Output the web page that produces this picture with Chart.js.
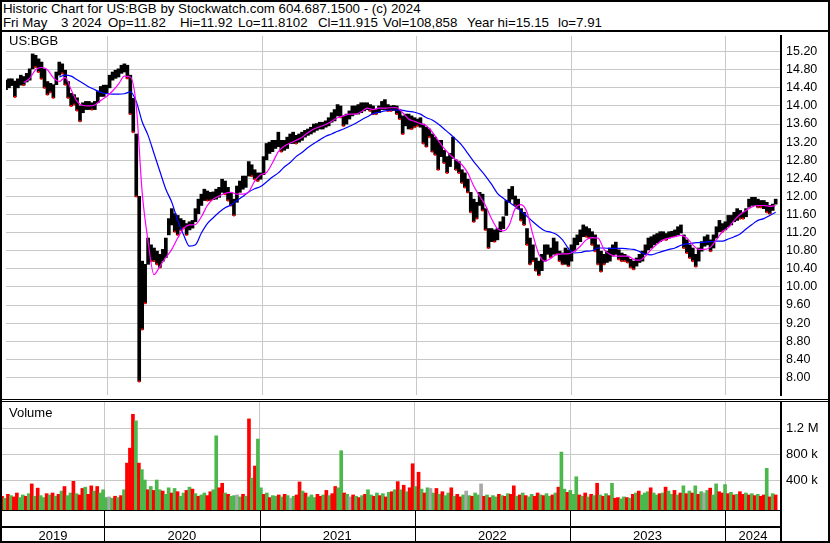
<!DOCTYPE html>
<html>
<head>
<meta charset="utf-8">
<script src="https://cdn.jsdelivr.net/npm/chart.js@4.4.1/dist/chart.umd.min.js"></script>
<style>
html, body { margin: 0; padding: 0; background: #fff; }
#frame { position: relative; width: 830px; height: 543px; box-sizing: border-box; border: 2px solid #000;
         font-family: "Liberation Sans", Arial, sans-serif; color: #000; overflow: hidden; background: #fff; }
#head { position: absolute; left: 1px; top: 0; font-size: 13.3px; line-height: 14px; white-space: pre; }
#quote { position: absolute; left: 0; top: 14px; width: 826px; height: 14px; font-size: 13.3px; line-height: 14px; white-space: pre; }
#quote span { position: absolute; top: 0; }
.rule { position: absolute; left: 0; width: 826px; background: #000; }
canvas { position: absolute; left: 0; }
.tag { position: absolute; left: 7px; font-size: 13px; line-height: 14px; }
</style>
</head>
<body>
<div id="frame">
  <div id="head">Historic Chart for US:BGB by Stockwatch.com 604.687.1500 - (c) 2024</div>
  <div id="quote"><span style="left:1px">Fri May</span><span style="left:59px">3 2024</span><span style="left:106px">Op=11.82</span><span style="left:178px">Hi=11.92</span><span style="left:236px">Lo=11.8102</span><span style="left:316px">Cl=11.915</span><span style="left:381px">Vol=108,858</span><span style="left:465px">Year hi=15.15</span><span style="left:556px">lo=7.91</span></div>
  <div class="rule" style="top:28px;height:2px"></div>
  <canvas id="price" width="826" height="367" style="top:30px"></canvas>
  <div class="rule" style="top:397px;height:1px"></div>
  <div class="rule" style="top:399px;height:1px"></div>
  <canvas id="vol" width="826" height="139" style="top:400px"></canvas>
  <div class="tag" style="top:32px">US:BGB</div>
  <div class="tag" style="top:404px">Volume</div>
</div>
<script>
// weekly bars, week 0 = first week of May 2019, last = week of May 3 2024
var priceHi = [
  14.57,14.60,14.60,14.55,14.60,14.68,14.65,14.72,14.82,15.15,
  15.12,15.04,14.97,14.82,14.54,14.50,14.47,14.75,14.97,14.93,
  14.79,14.54,14.28,14.25,14.18,14.00,14.07,14.10,14.10,14.07,
  14.10,14.32,14.43,14.46,14.46,14.68,14.75,14.79,14.82,14.90,
  14.93,14.90,14.68,14.17,13.38,12.00,10.57,10.50,11.08,10.93,
  10.86,10.79,10.72,10.83,11.08,11.51,11.73,11.62,11.58,11.51,
  11.47,11.40,11.44,11.47,11.73,11.94,12.05,12.16,12.12,12.09,
  12.10,12.16,12.20,12.38,12.34,12.20,12.09,11.94,12.23,12.34,
  12.45,12.45,12.77,12.70,12.59,12.52,12.52,12.88,13.17,13.20,
  13.24,13.24,13.42,13.24,13.24,13.31,13.38,13.42,13.35,13.38,
  13.42,13.46,13.49,13.53,13.60,13.61,13.64,13.64,13.67,13.74,
  13.85,13.92,14.03,14.00,13.78,13.82,13.89,14.00,14.00,14.03,
  14.07,14.07,14.07,14.03,14.00,13.92,14.00,14.10,14.14,14.03,
  14.00,14.01,14.00,13.92,13.78,13.82,13.82,13.78,13.74,13.71,
  13.74,13.60,13.53,13.49,13.38,13.31,13.24,13.24,13.02,12.88,
  12.95,13.31,12.81,12.77,12.59,12.52,12.38,12.09,11.94,11.87,
  12.09,12.05,11.73,11.29,11.29,11.26,11.29,11.44,11.55,11.91,
  12.16,12.22,12.01,11.94,11.73,11.65,11.29,11.08,10.93,10.64,
  10.57,10.72,10.93,10.93,10.86,11.08,11.00,10.79,10.75,10.86,
  10.82,10.93,11.08,11.15,11.26,11.37,11.33,11.29,11.22,11.15,
  10.93,10.79,10.72,10.79,10.86,10.93,10.99,10.82,10.75,10.72,
  10.68,10.61,10.57,10.64,10.72,10.79,10.93,11.08,11.11,11.15,
  11.18,11.22,11.22,11.18,11.22,11.23,11.26,11.33,11.37,11.15,
  11.04,10.93,10.86,10.72,10.86,11.00,11.11,11.15,11.04,11.15,
  11.33,11.47,11.40,11.44,11.58,11.58,11.65,11.73,11.69,11.65,
  11.73,11.94,11.98,11.98,11.94,11.91,11.91,11.87,11.80,11.83,
  11.94
];
var priceLo = [
  14.36,14.40,14.45,14.20,14.40,14.46,14.46,14.53,14.57,14.82,
  14.86,14.75,14.60,14.40,14.25,14.30,14.18,14.47,14.68,14.72,
  14.47,14.18,14.00,14.03,13.90,13.66,13.85,13.92,13.92,13.92,
  13.92,14.07,14.21,14.21,14.28,14.40,14.57,14.61,14.64,14.72,
  14.75,14.61,13.82,13.42,12.00,7.91,9.06,9.64,10.50,10.57,
  10.57,10.50,10.43,10.57,10.65,11.15,11.37,11.22,11.15,11.26,
  11.30,11.15,11.26,11.30,11.44,11.62,11.80,11.91,11.91,11.91,
  11.93,11.94,11.98,12.09,12.05,11.91,11.80,11.58,11.87,12.09,
  12.16,12.20,12.45,12.45,12.38,12.34,12.38,12.48,12.81,12.95,
  12.99,13.06,13.10,12.99,13.02,13.06,13.17,13.17,13.17,13.20,
  13.24,13.31,13.35,13.38,13.42,13.46,13.49,13.49,13.53,13.56,
  13.64,13.67,13.78,13.75,13.56,13.60,13.71,13.78,13.82,13.82,
  13.85,13.89,13.92,13.89,13.82,13.82,13.85,13.92,13.92,13.89,
  13.89,13.90,13.82,13.71,13.38,13.56,13.49,13.49,13.53,13.56,
  13.53,13.17,13.10,13.31,12.99,12.92,12.59,12.88,12.74,12.52,
  12.66,12.84,12.59,12.52,12.30,12.20,12.09,11.65,11.44,11.51,
  11.80,11.69,11.26,10.86,11.00,11.00,11.04,11.22,11.29,11.58,
  11.87,11.94,11.80,11.73,11.47,11.37,10.93,10.50,10.57,10.36,
  10.26,10.36,10.57,10.72,10.65,10.72,10.72,10.57,10.50,10.50,
  10.46,10.57,10.79,10.93,11.00,11.11,11.11,11.08,10.93,10.79,
  10.50,10.34,10.50,10.54,10.57,10.68,10.72,10.61,10.57,10.57,
  10.54,10.43,10.39,10.46,10.54,10.57,10.72,10.82,10.86,10.93,
  10.97,11.00,11.04,11.04,11.08,11.11,11.11,11.15,11.19,10.86,
  10.75,10.64,10.57,10.45,10.57,10.79,10.90,10.93,10.79,10.86,
  11.08,11.22,11.22,11.26,11.33,11.37,11.44,11.47,11.51,11.51,
  11.55,11.76,11.80,11.80,11.76,11.76,11.73,11.65,11.62,11.69,
  11.83
];

// moving averages read every 2 weeks
var fastStart = 6;
var fastAvg = [
  14.52,14.61,14.80,14.85,14.80,14.62,14.54,14.63,14.36,14.10,
  14.01,14.00,14.02,14.12,14.21,14.33,14.48,14.66,14.64,14.00,
  12.09,11.00,10.27,10.46,10.65,10.83,11.08,11.29,11.37,11.38,
  11.55,11.80,11.94,12.01,12.07,12.09,12.05,12.05,12.10,12.34,
  12.48,12.53,12.74,12.99,13.11,13.18,13.24,13.31,13.41,13.49,
  13.54,13.59,13.66,13.74,13.78,13.82,13.82,13.87,13.95,13.92,
  13.95,13.95,13.96,13.96,13.85,13.71,13.66,13.61,13.56,13.42,
  13.24,13.06,12.92,12.81,12.70,12.52,12.23,12.01,11.80,11.51,
  11.29,11.24,11.37,11.73,11.82,11.65,11.15,10.72,10.57,10.63,
  10.72,10.73,10.73,10.79,10.90,11.04,11.09,11.08,10.83,10.72,
  10.68,10.68,10.68,10.61,10.59,10.68,10.83,10.95,11.04,11.08,
  11.11,11.14,11.08,10.93,10.83,10.83,10.88,11.04,11.22,11.31,
  11.47,11.60,11.69,11.77,11.80,11.80,11.78,11.80
];
var slowStart = 18;
var slowAvg = [
  14.64,14.68,14.66,14.58,14.50,14.42,14.36,14.30,14.27,14.26,
  14.26,14.27,14.31,14.10,13.65,13.35,12.95,12.55,12.16,11.87,
  11.47,11.15,10.90,10.93,11.19,11.40,11.53,11.65,11.75,11.81,
  11.91,12.00,12.10,12.17,12.22,12.32,12.43,12.52,12.65,12.75,
  12.88,12.97,13.08,13.17,13.25,13.33,13.38,13.44,13.49,13.55,
  13.61,13.69,13.76,13.83,13.86,13.89,13.91,13.91,13.90,13.88,
  13.86,13.82,13.74,13.69,13.60,13.49,13.38,13.26,13.13,12.95,
  12.77,12.61,12.45,12.27,12.07,11.96,11.87,11.78,11.68,11.56,
  11.44,11.33,11.24,11.21,11.16,11.04,10.85,10.75,10.76,10.79,
  10.80,10.86,10.86,10.85,10.85,10.85,10.84,10.83,10.78,10.72,
  10.71,10.75,10.79,10.83,10.86,10.92,10.95,10.97,10.98,10.99,
  11.00,11.01,11.01,11.06,11.11,11.17,11.28,11.38,11.47,11.51,
  11.58,11.65
];

// volume in thousands, one bar per week; r = down, g = up, n = unchanged
var volume = [
  150,120,180,160,140,200,130,170,150,190,
  340,150,275,160,130,190,170,200,150,180,
  230,300,160,200,380,190,170,270,290,180,
  310,230,300,200,250,130,140,120,150,130,
  160,250,660,890,1410,1310,660,560,400,250,
  300,240,400,250,230,180,280,200,270,220,
  150,200,240,290,260,190,150,170,200,160,
  220,250,1080,280,350,200,180,150,160,170,
  140,180,150,1340,430,615,1030,280,180,200,
  130,160,150,170,140,180,160,120,150,170,
  370,230,200,140,170,130,180,150,170,240,
  160,190,300,280,850,200,180,140,170,150,
  130,160,180,250,170,150,200,160,190,140,
  210,220,250,375,250,320,220,280,650,300,
  520,260,200,280,270,200,270,180,220,160,
  200,280,150,180,140,170,230,160,150,200,
  170,340,150,170,130,160,140,180,160,150,
  190,180,310,150,170,200,160,140,180,150,
  200,170,160,190,150,170,200,290,830,260,
  210,240,180,450,170,150,200,140,180,160,
  350,170,150,190,160,350,120,130,110,140,
  130,120,180,200,230,170,200,220,280,200,
  170,190,200,290,230,180,240,170,200,310,
  190,230,200,310,180,220,200,240,275,170,
  340,220,200,330,190,210,170,180,220,180,
  200,170,190,160,180,150,170,580,140,190,
  170
];
var volumeDir = (
  "rgrgrrggrg" + "rgrggrgrgr" + "grggrgrrgr" + "rgrgggngrg" + "rgrrrgrggr" +
  "grggrggrgr" + "ggrgrgrggr" + "rggrrgrggn" + "grgrgrggrg" + "rggrgrgngr" +
  "rgrgggrrgr" + "grrggrgnrg" + "rgrggrgrgr" + "grgrgrgrrg" + "rgrgngrgrg" +
  "grgrrgngrg" + "gnrgrggrgr" + "grrgrgrggr" + "rgrggrgrgg" + "rgggrgrgrg" +
  "rgrgrgrrgg" + "rgrgrgggrg" + "grgrggrgrg" + "rgrgrgngrg" + "grrgrgrgrr" +
  "grgrgrrgrg" + "r").split('');

var years = ['2019', '2020', '2021', '2022', '2023', '2024'];
var yearStarts = [34.3, 86.6, 138.7, 190.9, 243.0];
var priceTicks = [8.0, 8.4, 8.8, 9.2, 9.6, 10.0, 10.4, 10.8, 11.2, 11.6, 12.0, 12.4, 12.8, 13.2, 13.6, 14.0, 14.4, 14.8, 15.2];
var volTicks = [400000, 800000, 1200000];
var volTickText = ['400 k', '800 k', '1.2 M'];

var xMax = 261.8;
var fontFam = '"Liberation Sans", Arial, sans-serif';
var gridGrey = '#c8c8c8';
var dirColor = { r: '#ff0000', g: '#4cb84c', n: '#a8a8a8' };

var bars = priceHi.map(function (h, i) { return { x: i, y: [priceLo[i], h] }; });
var downMarks = [];
priceHi.forEach(function (h, i) {
  if (i > 0 && h < priceHi[i - 1]) downMarks.push({ x: i, y: priceLo[i] });
});
var fastPts = fastAvg.map(function (v, i) { return { x: fastStart + i * 2, y: v }; });
var slowPts = slowAvg.map(function (v, i) { return { x: slowStart + i * 2, y: v }; });
var volPts = volume.map(function (v, i) { return { x: i, y: v * 1000 }; });
var volColors = volumeDir.map(function (d) { return dirColor[d]; });

function yearGrid() {
  return {
    type: 'linear', min: 0, max: xMax, offset: false,
    grid: { color: gridGrey, drawTicks: false, offset: false },
    border: { display: false },
    ticks: { display: false },
    afterBuildTicks: function (s) { s.ticks = yearStarts.map(function (v) { return { value: v }; }); },
    afterFit: function (s) { s.height = 0; s.paddingLeft = 0; s.paddingRight = 0; }
  };
}

new Chart(document.getElementById('price'), {
  type: 'bar',
  data: {
    datasets: [
      { type: 'line', data: fastPts, borderColor: '#ff00ff', borderWidth: 1.2, pointRadius: 0, cubicInterpolationMode: 'monotone', order: 0 },
      { type: 'line', data: slowPts, borderColor: '#0000ff', borderWidth: 1.2, pointRadius: 0, cubicInterpolationMode: 'monotone', order: 1 },
      { type: 'scatter', data: downMarks, pointStyle: 'rect', pointRadius: 1.4, backgroundColor: '#ff0000', borderWidth: 0, order: 2 },
      { data: bars, backgroundColor: '#000', barThickness: 3, order: 3 }
    ]
  },
  options: {
    responsive: false, animation: false, events: [],
    layout: { padding: 0 },
    plugins: { legend: { display: false }, tooltip: { enabled: false } },
    scales: {
      x: yearGrid(),
      y: {
        position: 'right', min: 7.611, max: 15.546,
        grid: { color: gridGrey, drawTicks: false },
        border: { color: '#000', width: 2 },
        ticks: { padding: 5, color: '#000', font: { family: fontFam, size: 12.5 },
                 callback: function (v) { return v.toFixed(2); } },
        afterBuildTicks: function (s) { s.ticks = priceTicks.map(function (v) { return { value: v }; }); },
        afterFit: function (s) { s.width = 47; s.paddingTop = 0; s.paddingBottom = 0; }
      }
    }
  }
});

// year band under the volume panel
var yearBand = {
  id: 'yearBand',
  afterDraw: function (chart) {
    var ctx = chart.ctx, a = chart.chartArea, x = chart.scales.x, h = chart.height;
    var bounds = [0].concat(yearStarts, [xMax]);
    ctx.save();
    ctx.fillStyle = '#000';
    ctx.fillRect(a.left, a.bottom, a.right - a.left, 1);
    ctx.fillRect(a.left, a.bottom + 16, a.right - a.left, 2);
    yearStarts.forEach(function (w) {
      ctx.fillRect(Math.round(x.getPixelForValue(w)), a.bottom, 1, h - a.bottom);
    });
    ctx.fillRect(a.right - 1, a.bottom, 2, h - a.bottom);
    ctx.font = '13px ' + fontFam;
    ctx.textAlign = 'center';
    years.forEach(function (yr, i) {
      ctx.fillText(yr, x.getPixelForValue((bounds[i] + bounds[i + 1]) / 2), h - 1);
    });
    ctx.restore();
  }
};

new Chart(document.getElementById('vol'), {
  type: 'bar',
  data: {
    datasets: [{ data: volPts, backgroundColor: volColors, barThickness: 3, base: -61500 }]
  },
  options: {
    responsive: false, animation: false, events: [],
    layout: { padding: { bottom: 31 } },
    plugins: { legend: { display: false }, tooltip: { enabled: false } },
    scales: {
      x: yearGrid(),
      y: {
        position: 'right', min: -61500, max: 1600000,
        grid: { color: gridGrey, drawTicks: false },
        border: { color: '#000', width: 2 },
        ticks: { padding: 5, color: '#000', font: { family: fontFam, size: 13 },
                 callback: function (v) { return volTickText[volTicks.indexOf(v)]; } },
        afterBuildTicks: function (s) { s.ticks = volTicks.map(function (v) { return { value: v }; }); },
        afterFit: function (s) { s.width = 47; s.paddingTop = 0; s.paddingBottom = 0; }
      }
    }
  },
  plugins: [yearBand]
});
</script>
</body>
</html>
